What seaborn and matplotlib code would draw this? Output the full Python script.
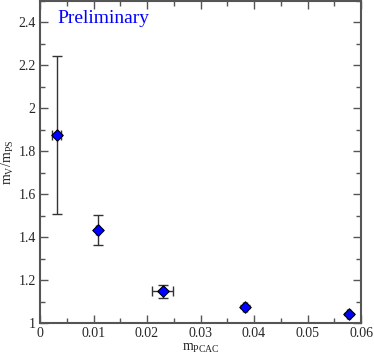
import matplotlib
matplotlib.use("Agg")
import matplotlib.pyplot as plt
import seaborn as sns
import pandas as pd
from matplotlib.ticker import MultipleLocator

m_pcac = [0.0031, 0.0108, 0.0229, 0.0383, 0.0577]
m_pcac_err = [0.0008, 0.0003, 0.0020, 0.0003, 0.0003]
ratio = [1.875, 1.433, 1.148, 1.076, 1.043]
ratio_err = [0.367, 0.068, 0.030, 0.006, 0.005]

df = pd.DataFrame({"m_pcac": m_pcac, "ratio": ratio})

sns.set_style("ticks")
plt.rcParams["font.family"] = ["Liberation Serif", "DejaVu Serif"]
plt.rcParams["mathtext.fontset"] = "custom"
plt.rcParams["mathtext.rm"] = "Liberation Serif"
plt.rcParams["mathtext.it"] = "Liberation Serif"

fig = plt.figure(figsize=(3.74, 3.54), dpi=100)
ax = fig.add_axes([40/374, 31/354, 321/374, 322/354])

ax.errorbar(m_pcac, ratio, xerr=m_pcac_err, yerr=ratio_err, fmt="none",
            ecolor="#333333", elinewidth=1.0, capsize=3.5, capthick=1.0, zorder=2)
sns.scatterplot(data=df, x="m_pcac", y="ratio", ax=ax, marker="D", s=34,
                color="#0000ff", edgecolor="black", linewidth=0.8, zorder=3)

ax.set_xlim(0, 0.06)
ax.set_ylim(1.0, 2.5)
ax.xaxis.set_minor_locator(MultipleLocator(0.005))
ax.yaxis.set_minor_locator(MultipleLocator(0.1))
ax.set_xticks([0, 0.01, 0.02, 0.03, 0.04, 0.05, 0.06])
ax.set_xticklabels(["0", "0.01", "0.02", "0.03", "0.04", "0.05", "0.06"])
ax.set_yticks([1, 1.2, 1.4, 1.6, 1.8, 2, 2.2, 2.4])
ax.set_yticklabels(["1", "1.2", "1.4", "1.6", "1.8", "2", "2.2", "2.4"])

ax.tick_params(which="both", direction="in", top=True, right=True,
               color="#555555", labelsize=10, pad=3)
ax.tick_params(which="major", length=6, width=1.0)
ax.tick_params(which="minor", length=3.5, width=1.0)
for sp in ax.spines.values():
    sp.set_linewidth(1.5)
    sp.set_color("#555555")

ax.set_xlabel(r"m$_{\mathrm{PCAC}}$", fontsize=10, labelpad=1)
ax.set_ylabel(r"m$_{\mathrm{V}}$/m$_{\mathrm{PS}}$", fontsize=10, labelpad=2)
ax.text(0.0033, 2.42, "Preliminary", color="#0000ff", fontsize=14,
        ha="left", va="center")

fig.savefig("out.png", dpi=100)
